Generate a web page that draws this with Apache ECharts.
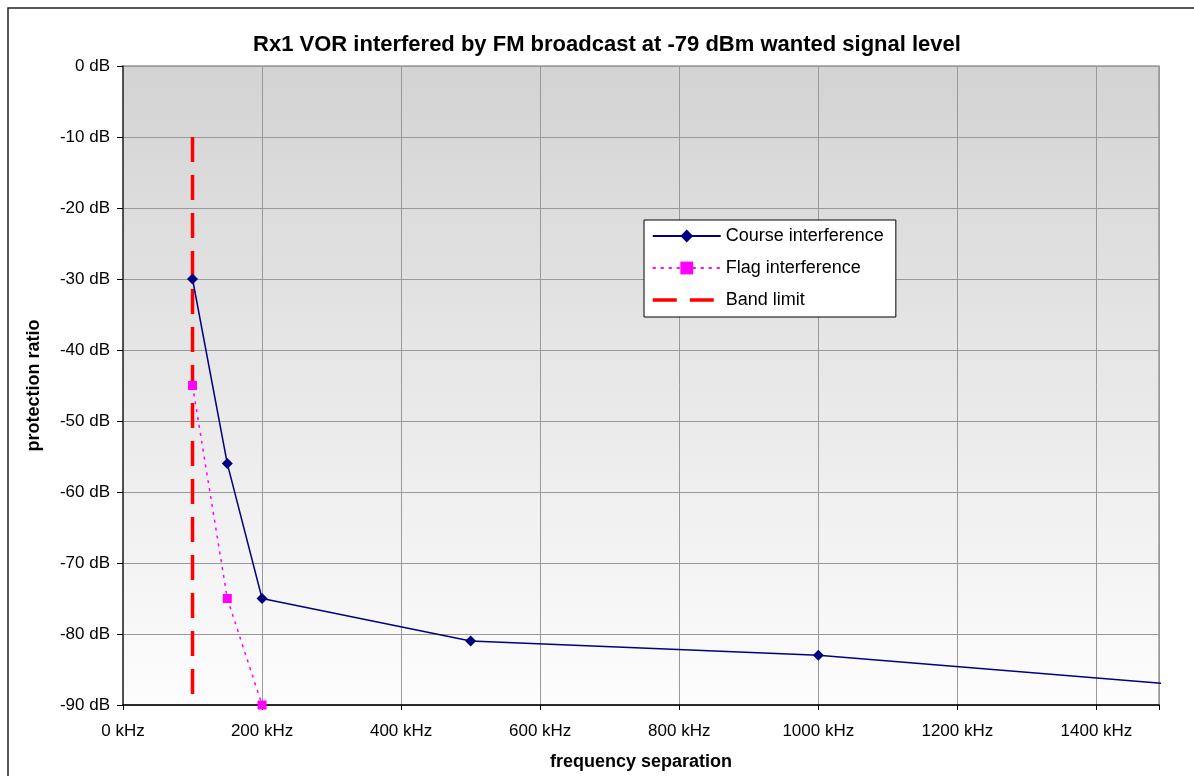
<!DOCTYPE html>
<html><head><meta charset="utf-8">
<script src="https://cdn.jsdelivr.net/npm/echarts@6/dist/echarts.min.js"></script>
<style>html,body{margin:0;padding:0;background:#fff}#c{width:1194px;height:776px}</style>
</head><body><div id="c"></div>
<script>
const titleText = 'Rx1 VOR interfered by FM broadcast at -79 dBm wanted signal level';
const courseData = [[100,-30],[150,-56],[200,-75],[500,-81],[1000,-83],[1500,-87]];
const flagData = [[100,-45],[150,-75],[200,-90]];
const bandLimit = [[100,-10],[100,-90]];
const seriesNames = ['Course interference','Flag interference','Band limit'];
const xTicks = [0,200,400,600,800,1000,1200,1400];
const yTicks = [0,-10,-20,-30,-40,-50,-60,-70,-80,-90];

const chart = echarts.init(document.getElementById('c'), null, {renderer:'canvas'});
const font = 'Liberation Sans, Arial, sans-serif';
chart.setOption({
  animation:false,
  backgroundColor:'#fff',
  graphic:[{type:'rect', shape:{x:8,y:8,width:1300,height:900}, style:{fill:'none',stroke:'#222',lineWidth:1.5}, silent:true, z:-1}],
  title:{text:titleText,left:602,textAlign:'center',top:29,textStyle:{fontFamily:font,fontSize:22,fontWeight:'bold',color:'#000'}},
  grid:{left:123,right:35,top:66,bottom:71,show:true,borderColor:'#999',borderWidth:1.5,
    backgroundColor:new echarts.graphic.LinearGradient(0,0,0,1,[{offset:0,color:'#d3d3d3'},{offset:1,color:'#fdfdfd'}])},
  legend:{left:644,top:220,orient:'vertical',backgroundColor:'#fff',borderColor:'#000',borderWidth:1,
    padding:[7,12,8,7],itemGap:14,itemWidth:68,itemHeight:16,
    textStyle:{fontFamily:font,fontSize:18,color:'#000',padding:[0,0,0,0]},
    data:[{name:seriesNames[0]},{name:seriesNames[1]},
      {name:seriesNames[2],itemStyle:{opacity:0},lineStyle:{type:[24,13],width:3.5,color:'#ff0000'}}]},
  xAxis:{type:'value',min:0,max:1490,interval:200,
    name:'frequency separation',nameLocation:'middle',nameGap:48,
    nameTextStyle:{fontFamily:font,fontSize:18,fontWeight:'bold',color:'#000'},
    axisLine:{onZero:false,lineStyle:{color:'#000',width:1.5}},axisTick:{show:true,length:5,lineStyle:{color:'#000'}},
    axisLabel:{fontFamily:font,fontSize:17,color:'#000',margin:18,formatter:v=>xTicks.includes(v)?v+' kHz':''},
    splitLine:{show:true,lineStyle:{color:'#999',width:1}}},
  yAxis:{type:'value',min:-90,max:0,interval:10,
    name:'protection ratio',nameLocation:'middle',nameGap:80,nameRotate:90,
    nameTextStyle:{fontFamily:font,fontSize:18,fontWeight:'bold',color:'#000'},
    axisLine:{show:true,onZero:false,lineStyle:{color:'#333',width:1.5}},axisTick:{show:true,length:6,lineStyle:{color:'#000'}},
    axisLabel:{fontFamily:font,fontSize:17,color:'#000',margin:13,formatter:v=>yTicks.includes(v)?v+' dB':''},
    splitLine:{show:true,lineStyle:{color:'#999',width:1}}},
  series:[
    {name:seriesNames[0],type:'line',data:courseData.map((d,i)=>i===courseData.length-1?{value:d,symbol:'none'}:d),
      clip:false,color:'#000080',lineStyle:{color:'#000080',width:1.5},symbol:'diamond',symbolSize:11,
      itemStyle:{color:'#000080'},z:5},
    {name:seriesNames[1],type:'line',data:flagData,color:'#ff00ff',
      lineStyle:{color:'#ff00ff',width:1.5,type:[3,5]},symbol:'rect',symbolSize:9,itemStyle:{color:'#ff00ff'},z:4},
    {name:seriesNames[2],type:'line',data:bandLimit,color:'#ff0000',showSymbol:false,symbol:'none',
      lineStyle:{color:'#ff0000',width:3.5,type:[25,13]},z:3}
  ]
});
</script></body></html>
